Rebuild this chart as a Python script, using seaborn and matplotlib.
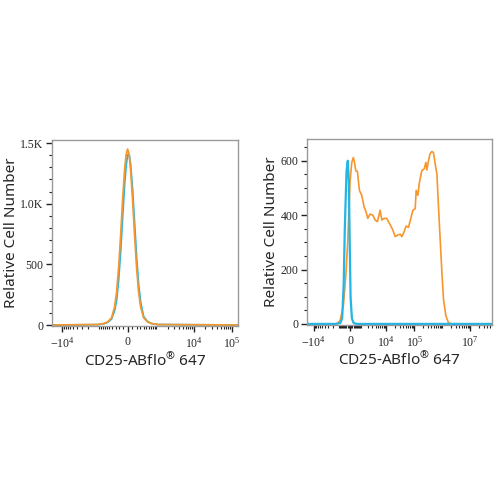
import matplotlib
matplotlib.use("Agg")
import matplotlib.pyplot as plt
import seaborn as sns
import pandas as pd
import numpy as np
from matplotlib.ticker import FixedLocator, NullFormatter

sns.set_theme(style="ticks")
plt.rcParams['font.family'] = ['Noto Sans', 'DejaVu Sans']
plt.rcParams['mathtext.fontset'] = 'custom'
plt.rcParams['mathtext.rm'] = 'Liberation Serif'
plt.rcParams['mathtext.default'] = 'regular'

# left panel: two overlapping histograms
left_x = [-18200, -1120, -757, -571, -424, -328, -271, -217, -167, -120,
          -74, -40, -7, 27, 60, 106, 153, 202, 254, 310, 403, 549, 726,
          1076, 144000]
left_orange = [0, 4, 12, 25, 60, 150, 270, 471, 734, 1025,
               1279, 1405, 1450, 1405, 1279, 1025, 734, 471, 270, 150, 60,
               25, 12, 4, 0]
left_blue = [0, 3, 10, 22, 50, 120, 205, 373, 608, 887,
             1159, 1315, 1402, 1405, 1323, 1108, 830, 556, 334, 190, 70,
             28, 12, 4, 0]

# right panel
right_blue_x = [-17400, -1500, -900, -700, -550, -450, -300, -190, -100,
                -30, 40, 150, 300, 600, 60000000]
right_blue = [0, 0, 3, 20, 150, 350, 560, 600, 520, 300, 100, 20, 3, 0, 0]

right_orange_x = [-17400, -1330, -920, -580, -340, -190, -83, 0, 140, 275,
                  362, 488, 640, 844, 1120, 1430, 1740, 2030, 2500, 3170,
                  3870, 4700, 5900, 6800, 8240, 10300, 11800, 14400, 16900,
                  20500, 25600, 30900, 35600, 43000, 50700, 61400, 74800,
                  88200, 107000, 116000, 133000, 152000, 185000, 224000,
                  258000, 280000, 320000, 368000, 423000, 483000, 556000,
                  640000, 730000, 840000, 967000, 1100000, 1340000, 1670000,
                  2200000, 60000000]
right_orange = [0, 0, 12, 67, 189, 309, 430, 527, 594, 612,
                597, 563, 561, 491, 473, 430, 412, 388, 404, 400,
                382, 376, 418, 382, 388, 388, 376, 360, 345,
                321, 327, 330, 321, 339, 360, 355, 388,
                418, 424, 491, 473, 521, 564, 570,
                594, 566, 600, 627, 634, 630, 588,
                552, 430, 309, 188, 91, 30, 4,
                0, 0]

orange = "#F7962B"
blue = "#22B5E6"


def minor_ticks(lo, hi):
    t = []
    for k in range(2, 8):
        for m in range(1, 10):
            v = m * 10 ** k
            t += [v, -v]
    return [v for v in t if lo < v < hi]


def style_axes(ax, xlim, ylim, lw, xmaj, xlab, ymaj, ylab, yminor):
    ax.set_xscale('asinh', linear_width=lw)
    ax.set_xlim(*xlim)
    ax.set_ylim(*ylim)
    ax.xaxis.set_major_locator(FixedLocator(xmaj))
    ax.set_xticklabels(xlab)
    ax.xaxis.set_minor_locator(FixedLocator(minor_ticks(*xlim)))
    ax.xaxis.set_minor_formatter(NullFormatter())
    ax.yaxis.set_major_locator(FixedLocator(ymaj))
    ax.set_yticklabels(ylab)
    ax.yaxis.set_minor_locator(FixedLocator(yminor))
    ax.tick_params(axis='both', which='major', length=4, width=1,
                   color='#222222', labelsize=8.5, pad=2)
    ax.tick_params(axis='x', which='major', pad=3.5)
    ax.tick_params(axis='both', which='minor', length=2, width=0.8,
                   color='#222222')
    for lab in ax.get_xticklabels() + ax.get_yticklabels():
        lab.set_family('Liberation Serif')
    for s in ax.spines.values():
        s.set_visible(True)
        s.set_color('#9a9a9a')
        s.set_linewidth(1)
    ax.set_xlabel(r"CD25-ABflo$^{\mathregular{®}}$ 647", fontsize=11, labelpad=1)
    ax.set_ylabel("Relative Cell Number", fontsize=11, labelpad=1)


fig = plt.figure(figsize=(5, 5), dpi=100)
ax1 = fig.add_axes([0.104, 0.348, 0.372, 0.372])
ax2 = fig.add_axes([0.614, 0.35, 0.37, 0.372])

df1 = pd.DataFrame({"x": left_x, "orange": left_orange, "blue": left_blue})
sns.lineplot(data=df1, x="x", y="blue", color=blue, lw=1.3, ax=ax1, errorbar=None)
sns.lineplot(data=df1, x="x", y="orange", color=orange, lw=1.3, ax=ax1, errorbar=None)

df2b = pd.DataFrame({"x": right_blue_x, "y": right_blue})
df2o = pd.DataFrame({"x": right_orange_x, "y": right_orange})
sns.lineplot(data=df2o, x="x", y="y", color=orange, lw=1.2, ax=ax2, errorbar=None)
sns.lineplot(data=df2b, x="x", y="y", color=blue, lw=1.6, ax=ax2, errorbar=None)

style_axes(ax1, (-18200, 144000), (-8, 1525), 366,
           [-10000, 0, 10000, 100000],
           [r"$-10^{4}$", "0", r"$10^{4}$", r"$10^{5}$"],
           [0, 500, 1000, 1500], ["0", "500", "1.0K", "1.5K"],
           list(range(100, 1500, 100)))
style_axes(ax2, (-17400, 60000000), (-4, 680), 1000,
           [-10000, 0, 10000, 100000, 10000000],
           [r"$-10^{4}$", "0", r"$10^{4}$", r"$10^{5}$", r"$10^{7}$"],
           [0, 200, 400, 600], ["0", "200", "400", "600"],
           list(range(50, 680, 50)))

fig.savefig("out.png", dpi=100)
